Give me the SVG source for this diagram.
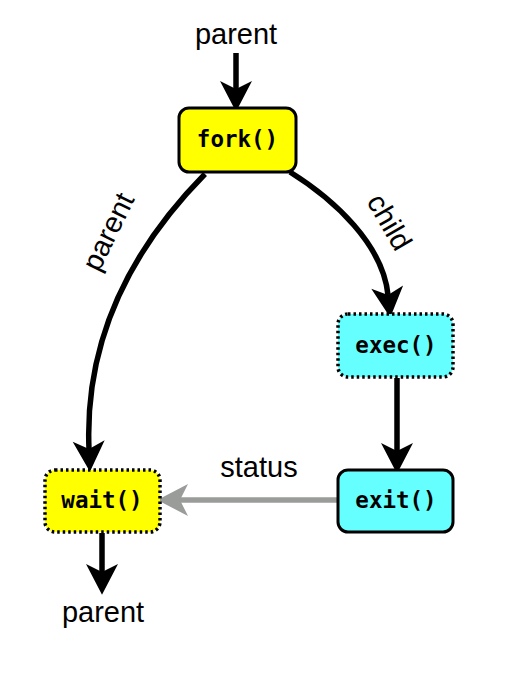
<svg xmlns="http://www.w3.org/2000/svg" width="510" height="690" viewBox="0 0 510 690">
  <style>
    .label { font-family: "Liberation Sans", Arial, sans-serif; font-size: 29px; fill: #000; text-anchor: middle; }
    .code { font-family: "DejaVu Sans Mono", "Liberation Mono", monospace; font-weight: bold; font-size: 22.5px; fill: #000; text-anchor: middle; }
    .box { stroke: #000; stroke-width: 3; }
    .dotted { stroke-dasharray: 2.5 3; stroke-width: 3.5; }
    .yellow { fill: #ffff00; }
    .cyan { fill: #66ffff; }
    .flow { fill: none; stroke: #000; stroke-width: 5.5; }
    .ret { fill: none; stroke: #9a9c9a; stroke-width: 5.5; }
  </style>
  <defs>
    <marker id="head" markerUnits="userSpaceOnUse" markerWidth="40" markerHeight="40" viewBox="-10 -15 30 30" refX="0" refY="0" orient="auto">
      <path d="M-6,-12 L17,0 L-6,12 L0,0 Z" fill="#000"/>
    </marker>
    <marker id="headGray" markerUnits="userSpaceOnUse" markerWidth="40" markerHeight="40" viewBox="-10 -15 30 30" refX="0" refY="0" orient="auto">
      <path d="M-6,-12 L17,0 L-6,12 L0,0 Z" fill="#9a9c9a"/>
    </marker>
  </defs>

  <g id="connectors">
    <path class="flow" d="M236,53 L236,89" marker-end="url(#head)"/>
    <path class="flow" d="M205,174 C140,240 84,330 89,449" marker-end="url(#head)"/>
    <path class="flow" d="M290,172 C335,200 383,245 388,295" marker-end="url(#head)"/>
    <path class="flow" d="M397,378 L397,451" marker-end="url(#head)"/>
    <path class="ret" d="M338,500 L180,500" marker-end="url(#headGray)"/>
    <path class="flow" d="M102,533 L102,572" marker-end="url(#head)"/>
  </g>

  <g id="label-parent-in">
    <text class="label" x="236" y="44">parent</text>
  </g>
  <g id="label-parent-left">
    <text class="label" transform="translate(117,236) rotate(-64)">parent</text>
  </g>
  <g id="label-child">
    <text class="label" transform="translate(381,227) rotate(60)">child</text>
  </g>
  <g id="label-status">
    <text class="label" x="259" y="477">status</text>
  </g>
  <g id="label-parent-out">
    <text class="label" x="103" y="622">parent</text>
  </g>

  <g id="fork">
    <rect class="box yellow" x="179" y="108" width="117" height="64" rx="10"/>
    <text class="code" x="237.5" y="147">fork()</text>
  </g>
  <g id="exec">
    <rect class="box dotted cyan" x="338" y="314" width="115" height="63" rx="10"/>
    <text class="code" x="396" y="353">exec()</text>
  </g>
  <g id="exit">
    <rect class="box cyan" x="338" y="470" width="115" height="62" rx="10"/>
    <text class="code" x="396" y="508">exit()</text>
  </g>
  <g id="wait">
    <rect class="box dotted yellow" x="45" y="470" width="115" height="62" rx="10"/>
    <text class="code" x="102" y="508">wait()</text>
  </g>
</svg>
